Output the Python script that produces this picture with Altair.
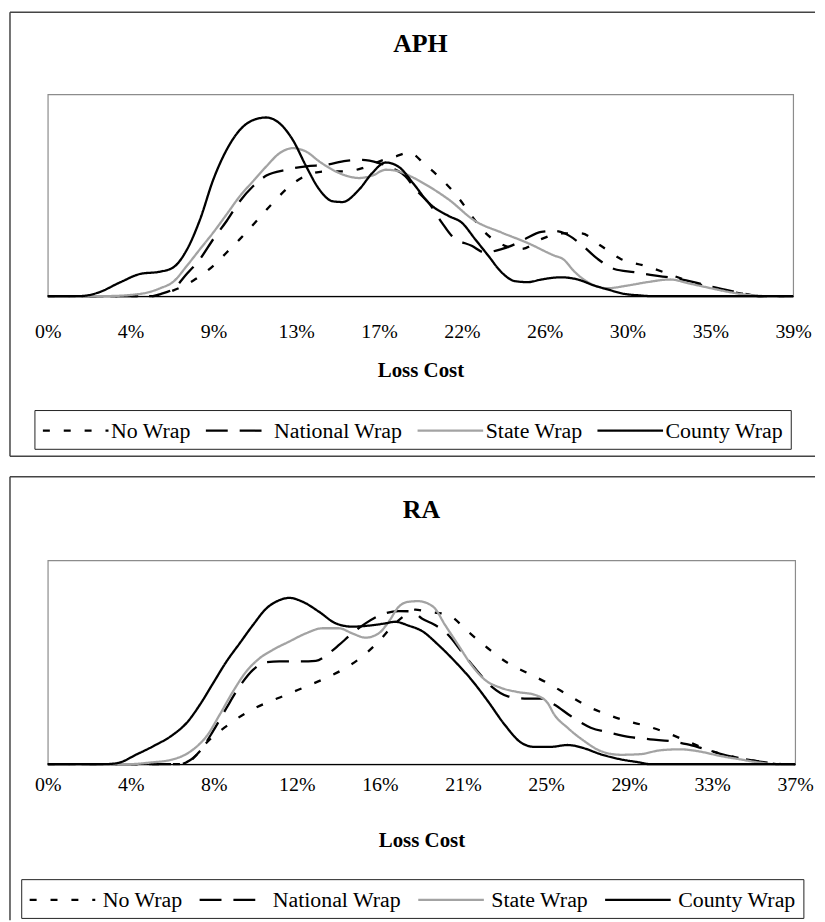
import altair as alt
import pandas as pd

SERIES = ["No Wrap", "National Wrap", "State Wrap", "County Wrap"]
COLORS = ["#000000", "#000000", "#a3a3a3", "#000000"]
DASHES = [[7, 14], [22, 12], [1, 0], [1, 0]]
WIDTHS = [2.3, 2.3, 3.0, 2.3]

APH_TICKS = [0, 0.0433, 0.0867, 0.13, 0.1733, 0.2167, 0.26, 0.3033, 0.3467, 0.39]
RA_TICKS = [0, 0.0411, 0.0822, 0.1233, 0.1644, 0.2056, 0.2467, 0.2878, 0.3289, 0.37]

# ---------------- APH ----------------
APH_NO_X = [0, 0.055, 0.0658, 0.0762, 0.0866, 0.0936, 0.1005, 0.1092, 0.1178, 0.1265, 0.1352, 0.1456,
            0.156, 0.1646, 0.1733, 0.182, 0.189, 0.1976, 0.2062, 0.2149, 0.2218, 0.2288, 0.2392, 0.2478,
            0.2582, 0.2686, 0.279, 0.2894, 0.2998, 0.312, 0.3224, 0.3328, 0.3432, 0.3536, 0.364, 0.372, 0.39]
APH_NO_Y = [0, 0, 2.8, 7.7, 15, 21.6, 28.2, 37.2, 46.2, 54.4, 59.7, 61.8,
            61.8, 63.4, 66.7, 69.2, 71.1, 65, 57.7, 48.7, 39.7, 31.5, 24.9, 23.3,
            28.2, 31.1, 31.1, 24.9, 18.4, 15.1, 11.8, 8.2, 5.2, 2.8, 1.1, 0, 0]

APH_NAT_X = [0, 0.055, 0.059, 0.0658, 0.0728, 0.0797, 0.0866, 0.0936, 0.1005, 0.1074, 0.1144, 0.1248,
             0.1352, 0.1456, 0.156, 0.1646, 0.1733, 0.1802, 0.1872, 0.1924, 0.1993, 0.2062, 0.2114,
             0.2218, 0.2288, 0.2374, 0.2444, 0.2496, 0.2582, 0.2652, 0.2704, 0.279, 0.2877, 0.2964,
             0.3068, 0.3172, 0.3276, 0.338, 0.3484, 0.3588, 0.3657, 0.372, 0.39]
APH_NAT_Y = [0, 0, 1, 3.6, 11, 18.4, 28.2, 37.2, 47, 54.4, 59.7, 62.6,
             64.3, 65.1, 67, 67.5, 65.9, 63.4, 59.3, 53, 46.2, 36.4, 29.8,
             24.9, 21.6, 23.3, 25.7, 28.2, 31.8, 32.3, 31.1, 25.7, 18.4, 13.4,
             11.8, 10.2, 8.9, 6.9, 4.4, 2.3, 1, 0, 0]

APH_STATE_X = [0, 0.031, 0.0485, 0.0589, 0.0658, 0.0728, 0.0797, 0.0866, 0.0936, 0.1005, 0.1074, 0.1144,
               0.1213, 0.1282, 0.1352, 0.1421, 0.149, 0.156, 0.1629, 0.1698, 0.1768, 0.1837, 0.1906,
               0.1993, 0.2097, 0.2236, 0.2374, 0.2513, 0.2652, 0.2695, 0.2757, 0.2825, 0.2929, 0.3033,
               0.3137, 0.3258, 0.3362, 0.3484, 0.3588, 0.3692, 0.375, 0.39]
APH_STATE_Y = [0, 0, 1.1, 3.9, 7.2, 15, 23.3, 31.5, 40.5, 49.5, 56.9, 64.3,
               70.8, 73.3, 71.6, 66.7, 62.6, 59.7, 58.5, 59.7, 62.6, 61.8, 59,
               54.4, 47.9, 37.2, 31.5, 26.2, 20, 18.4, 12, 6.9, 3.9, 5.2,
               6.9, 8.2, 6.1, 3.6, 1.6, 0.3, 0, 0]

APH_CTY_X = [0, 0.0173, 0.026, 0.0381, 0.0485, 0.0589, 0.0658, 0.0728, 0.0797, 0.0866, 0.0936, 0.1005,
             0.1074, 0.1144, 0.1213, 0.1282, 0.1352, 0.1421, 0.149, 0.1542, 0.1629, 0.1698, 0.1768,
             0.1837, 0.1915, 0.1993, 0.2097, 0.2166, 0.2236, 0.2305, 0.2374, 0.2444, 0.2513, 0.2582,
             0.2686, 0.2773, 0.286, 0.2929, 0.3016, 0.3102, 0.315, 0.39]
APH_CTY_Y = [0, 0, 1.6, 6.9, 11, 12.1, 14.3, 23, 38, 57.7, 72.5, 82.3,
             87.2, 88.5, 85.6, 77.4, 64.3, 52.8, 47, 46.6, 52.8, 61, 66.2,
             64, 55.5, 46.2, 39.7, 36.4, 28.2, 20, 11.8, 7.4, 6.9, 8.2,
             9.3, 8.2, 5.2, 3.3, 1.1, 0.3, 0, 0]

# ---------------- RA ----------------
RA_NO_X = [0, 0.068, 0.0721, 0.0787, 0.0885, 0.0983, 0.1082, 0.1163, 0.1262, 0.136, 0.1458, 0.1557,
           0.1638, 0.1704, 0.177, 0.1819, 0.1884, 0.1983, 0.2081, 0.2179, 0.2278, 0.2376, 0.2474,
           0.2573, 0.2671, 0.2769, 0.2868, 0.2966, 0.3064, 0.3163, 0.3261, 0.3359, 0.3458, 0.3556,
           0.362, 0.37]
RA_NO_Y = [0, 0, 2.9, 10.6, 18.7, 25.2, 30.1, 33.3, 37.4, 41.5, 46.3, 52.8,
           60.2, 67.5, 73.2, 75.8, 74.8, 73.2, 65, 56.9, 49.6, 44.7, 39.8,
           34.1, 28.5, 24.4, 21.1, 18.7, 15.4, 11.4, 7.3, 4.4, 2.4, 0.8,
           0, 0]

RA_NAT_X = [0, 0.066, 0.0688, 0.0754, 0.0819, 0.0885, 0.095, 0.1016, 0.1082, 0.1147, 0.1245, 0.1327,
            0.1393, 0.1442, 0.1507, 0.1573, 0.1655, 0.1737, 0.1802, 0.1852, 0.1917, 0.1983, 0.2048,
            0.2114, 0.2196, 0.2278, 0.236, 0.2442, 0.2507, 0.2589, 0.2688, 0.2786, 0.2884, 0.2982,
            0.3097, 0.3163, 0.3228, 0.3326, 0.3425, 0.3523, 0.3605, 0.364, 0.37]
RA_NAT_Y = [0, 0, 1, 6.5, 16.3, 27.6, 38.2, 46.3, 50.1, 50.4, 50.4, 50.7,
            54.5, 58.5, 64.2, 69.1, 73.5, 75.1, 75, 71.5, 68.3, 63.4, 55.3,
            47.2, 38.2, 33.3, 32.2, 32.2, 29.3, 23.6, 17.9, 15.4, 13.3, 12.2,
            11.1, 9.8, 8.1, 5.2, 2.9, 1.3, 0.3, 0, 0]

RA_STATE_X = [0, 0.04, 0.0508, 0.0622, 0.0721, 0.0787, 0.0852, 0.0918, 0.0983, 0.1049, 0.1114, 0.1196,
              0.1278, 0.136, 0.1442, 0.1507, 0.1573, 0.1638, 0.1688, 0.1737, 0.1786, 0.1835, 0.1909,
              0.1967, 0.2032, 0.2097, 0.2163, 0.2245, 0.2327, 0.2409, 0.2474, 0.2507, 0.2573, 0.2655,
              0.2736, 0.2835, 0.2933, 0.3031, 0.313, 0.3228, 0.3326, 0.3425, 0.3523, 0.36, 0.37]
RA_STATE_Y = [0, 0, 0.8, 2.4, 7.3, 13.8, 24.4, 35.8, 45.5, 52, 56.1, 60.2,
              64.2, 66.7, 66.7, 64.2, 62.1, 64.2, 69.9, 77.2, 79.7, 80, 77.2,
              68.3, 58.5, 48.8, 41.5, 37.4, 35.4, 34.1, 30.1, 24.4, 17.9, 11.4,
              6.5, 4.6, 4.9, 6.8, 7.3, 6.2, 4.1, 2.4, 0.8, 0, 0]

RA_CTY_X = [0, 0.0278, 0.0344, 0.0442, 0.0524, 0.0622, 0.0688, 0.0754, 0.0819, 0.0885, 0.095, 0.1016,
            0.1082, 0.1147, 0.1196, 0.1262, 0.1343, 0.1426, 0.1507, 0.1589, 0.1671, 0.172, 0.1786,
            0.1852, 0.1934, 0.2016, 0.2097, 0.2179, 0.2261, 0.2343, 0.2409, 0.2491, 0.2573, 0.2655,
            0.2736, 0.2835, 0.2933, 0.298, 0.37]
RA_CTY_Y = [0, 0, 0.5, 4.9, 8.9, 14.6, 20.3, 29.3, 39.8, 50.4, 59.3, 68.3,
            76.4, 80.5, 81.6, 79.7, 74.8, 69.1, 67.5, 68, 69.1, 69.9, 68,
            65.4, 58.5, 50.4, 41.5, 30.9, 19.5, 10.6, 8.5, 8.5, 9.4, 7.8,
            4.9, 2.4, 0.8, 0, 0]

SERIF = "Liberation Serif"


def make_df(pairs):
    rows = []
    for name, xs, ys in pairs:
        for x, y in zip(xs, ys):
            rows.append({"series": name, "x": x, "y": y})
    return pd.DataFrame(rows)


def hline(x1, x2, y, color="#444444", w=1.5):
    return alt.Chart(pd.DataFrame({"k": [0]})).mark_rule(color=color, strokeWidth=w).encode(
        x=alt.value(x1), x2=alt.value(x2), y=alt.value(y), y2=alt.value(y))


def vline(x, y1, y2, color="#444444", w=1.5):
    return alt.Chart(pd.DataFrame({"k": [0]})).mark_rule(color=color, strokeWidth=w).encode(
        x=alt.value(x), x2=alt.value(x), y=alt.value(y1), y2=alt.value(y2))


def panel(title, df, ticks, xmax, w, h, label_pad, title_y, leg_x, leg_y, leg_lo, leg_cp,
          frame_top, frame_bottom, draw_bottom):
    legend = alt.Legend(
        title=None, orient="none", legendX=leg_x, legendY=leg_y, direction="horizontal",
        columns=4, strokeColor="#222222", fillColor="white", padding=7,
        symbolType="M-1,0H4.5", symbolSize=576, symbolStrokeWidth=2.5, symbolOffset=0,
        labelFont=SERIF, labelFontSize=22, labelColor="black", labelOffset=leg_lo,
        columnPadding=leg_cp, labelLimit=300,
    )
    lines = alt.Chart(df).mark_line(interpolate="monotone").encode(
        x=alt.X("x:Q", scale=alt.Scale(domain=[0, xmax], nice=False, zero=True),
                axis=alt.Axis(values=ticks, format=".0%", title="Loss Cost", grid=False,
                              ticks=False, domain=True, domainColor="black", domainWidth=1.2,
                              labelFont=SERIF, labelFontSize=20, labelColor="black",
                              labelPadding=label_pad, labelBaseline="alphabetic",
                              labelFlush=False, labelOverlap=False, labelBound=False,
                              titleFont=SERIF, titleFontSize=21, titleFontWeight="bold",
                              titleColor="black", titleY=title_y, titleBaseline="alphabetic")),
        y=alt.Y("y:Q", scale=alt.Scale(domain=[0, 100], nice=False), axis=None),
        stroke=alt.Stroke("series:N", sort=SERIES,
                          scale=alt.Scale(domain=SERIES, range=COLORS), legend=legend),
        strokeDash=alt.StrokeDash("series:N", sort=SERIES,
                                  scale=alt.Scale(domain=SERIES, range=DASHES), legend=legend),
        strokeWidth=alt.StrokeWidth("series:N", scale=alt.Scale(domain=SERIES, range=WIDTHS),
                                    legend=None),
    )
    ttl = alt.Chart(pd.DataFrame({"t": [title]})).mark_text(
        font=SERIF, fontSize=26, fontWeight="bold", color="black", baseline="alphabetic",
        align="center").encode(x=alt.value(w / 2), y=alt.value(-42.3), text="t:N")
    layers = [lines, ttl,
              hline(-38, 772, frame_top),
              vline(-38, frame_top, frame_bottom)]
    if draw_bottom:
        layers.append(hline(-38, 772, frame_bottom))
    return alt.layer(*layers).properties(width=w, height=h)


aph_df = make_df([("No Wrap", APH_NO_X, APH_NO_Y), ("National Wrap", APH_NAT_X, APH_NAT_Y),
                  ("State Wrap", APH_STATE_X, APH_STATE_Y), ("County Wrap", APH_CTY_X, APH_CTY_Y)])
ra_df = make_df([("No Wrap", RA_NO_X, RA_NO_Y), ("National Wrap", RA_NAT_X, RA_NAT_Y),
                 ("State Wrap", RA_STATE_X, RA_STATE_Y), ("County Wrap", RA_CTY_X, RA_CTY_Y)])

top = panel("APH", aph_df, APH_TICKS, 0.39, 750, 203, 42, 81, -13.4, 317.7, 43, 9,
            -82.5, 364.3, True)
bottom = panel("RA", ra_df, RA_TICKS, 0.37, 752, 205, 27, 83, -26.7, 320.7, 48, 11,
               -84.3, 362, False)

chart = alt.vconcat(top, bottom, spacing=17).resolve_scale(
    x="independent", y="independent", stroke="independent", strokeDash="independent",
    strokeWidth="independent"
).resolve_legend(stroke="independent", strokeDash="independent").properties(
    padding={"left": 0, "top": 0, "right": 0, "bottom": 0},
    background="white",
).configure_view(stroke="#8c8c8c", strokeWidth=1.2).configure_legend(
    labelFont=SERIF, labelFontSize=22
)

chart.save("out.html", embed_options={"renderer": "svg", "actions": False})
